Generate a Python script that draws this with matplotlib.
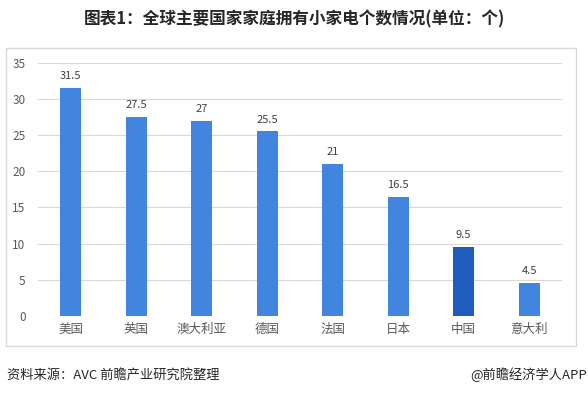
import matplotlib
matplotlib.use("Agg")
import matplotlib.pyplot as plt
from matplotlib.patches import Rectangle

plt.rcParams['font.family'] = ['Noto Sans CJK SC', 'DejaVu Sans']

categories = ['美国', '英国', '澳大利亚', '德国', '法国', '日本', '中国', '意大利']
values = [31.5, 27.5, 27, 25.5, 21, 16.5, 9.5, 4.5]
value_labels = ['31.5', '27.5', '27', '25.5', '21', '16.5', '9.5', '4.5']
yticks = [0, 5, 10, 15, 20, 25, 30, 35]
highlight = '中国'

base_color = '#4285DE'
hi_color = '#1F5DBD'

fig = plt.figure(figsize=(5.88, 3.95), dpi=100)
fig.patch.set_facecolor('white')

# frame box
fig.patches.append(Rectangle((6/588, 1-346/395), 570/588, 298/395,
                             transform=fig.transFigure, fill=False,
                             edgecolor='#D9D9D9', linewidth=1.0))

ax = fig.add_axes([38/588, 1-316/395, 524/588, (316-62.7)/395])
colors = [hi_color if c == highlight else base_color for c in categories]
x = list(range(len(categories)))
bars = ax.bar(x, values, width=0.32, color=colors, zorder=3)
ax.set_xlim(-0.5, len(categories) - 0.5)
ax.set_ylim(0, 35)
ax.set_yticks(yticks)
ax.set_yticklabels([str(t) for t in yticks], fontsize=8.5, color='#595959')
ax.set_xticks(x)
ax.set_xticklabels(categories, fontsize=9, color='#595959')
ax.tick_params(axis='both', length=0)
ax.tick_params(axis='y', pad=9)
ax.tick_params(axis='x', pad=5)
ax.grid(axis='y', color='#D9D9D9', linewidth=0.8, zorder=0)
for s in ax.spines.values():
    s.set_visible(False)
for xi, v, lab in zip(x, values, value_labels):
    ax.annotate(lab, (xi, v), xytext=(0, 5), textcoords='offset points',
                ha='center', va='bottom', fontsize=8, color='#404040')

fig.text(294/588, 1-19.5/395, '图表1：全球主要国家家庭拥有小家电个数情况(单位：个)',
         ha='center', va='center', fontsize=12, fontweight='bold', color='#262626')
fig.text(7/588, 1-375/395, '资料来源：AVC 前瞻产业研究院整理',
         ha='left', va='center', fontsize=9.5, color='#262626')
fig.text(587/588, 1-375/395, '@前瞻经济学人APP',
         ha='right', va='center', fontsize=9.5, color='#262626')

fig.savefig('out.png', dpi=100, facecolor='white')
